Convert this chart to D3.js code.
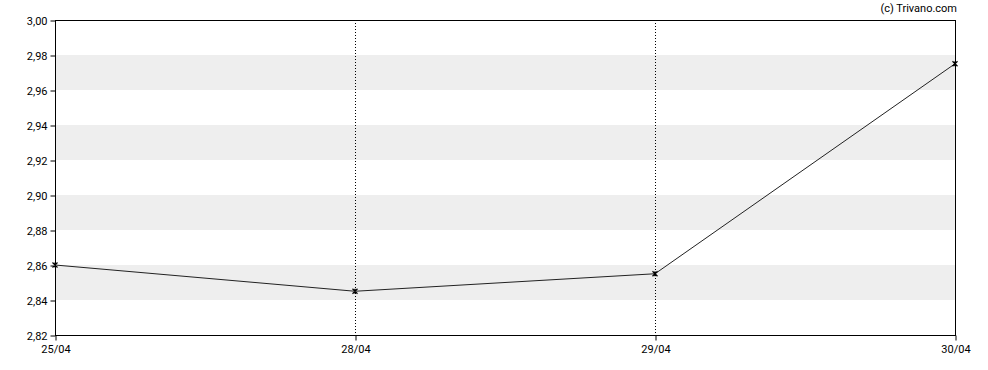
<!DOCTYPE html>
<html>
<head>
<meta charset="utf-8">
<script src="https://cdn.jsdelivr.net/npm/d3@7"></script>
<style>
  body { margin: 0; background: #fff; }
  text { font-family: Roboto, "Liberation Sans", sans-serif; font-size: 11px; fill: #000; }
</style>
</head>
<body>
<div id="chart"></div>
<script>
  // data
  var dates = ["25/04", "28/04", "29/04", "30/04"];
  var prices = [2.86, 2.845, 2.855, 2.975];
  var yTicks = [2.82, 2.84, 2.86, 2.88, 2.90, 2.92, 2.94, 2.96, 2.98, 3.00];
  var bands = [[2.84, 2.86], [2.88, 2.90], [2.92, 2.94], [2.96, 2.98]];

  var W = 988, H = 370;
  const margin = { top: 20, right: 33, bottom: 35, left: 55 };
  var width = W - margin.left - margin.right,
      height = H - margin.top - margin.bottom;

  var svg = d3.select("#chart").append("svg")
    .attr("width", W).attr("height", H);

  var g = svg.append("g").attr("transform", `translate(${margin.left}, ${margin.top})`);

  var x = d3.scalePoint().domain(dates).range([0, width]);
  var y = d3.scaleLinear().domain([2.82, 3.00]).range([height, 0]);

  // grey bands
  g.selectAll(".band").data(bands).enter().append("rect")
    .attr("x", 0).attr("width", width)
    .attr("y", d => y(d[1]))
    .attr("height", d => y(d[0]) - y(d[1]))
    .attr("fill", "#eeeeee");

  // dotted vertical lines on inner dates
  g.selectAll(".vline").data(dates.slice(1, -1)).enter().append("line")
    .attr("x1", d => Math.round(x(d)) + 0.5).attr("x2", d => Math.round(x(d)) + 0.5)
    .attr("y1", 0).attr("y2", height)
    .attr("stroke", "#000").attr("stroke-width", 1)
    .attr("stroke-dasharray", "1,2");

  // frame
  g.append("rect").attr("x", 0.5).attr("y", 0.5)
    .attr("width", width).attr("height", height)
    .attr("fill", "none").attr("stroke", "#000");

  // axes
  var yAxis = g.append("g").attr("transform", "translate(0.5,0.5)")
    .call(d3.axisLeft(y).tickValues(yTicks).tickSize(5).tickPadding(3)
      .tickFormat(d => d3.format(".2f")(d).replace(".", ",")));
  var xAxis = g.append("g").attr("transform", `translate(0.5,${height + 0.5})`)
    .call(d3.axisBottom(x).tickSize(5).tickPadding(5));
  [yAxis, xAxis].forEach(function (a) {
    a.select(".domain").remove();
    a.selectAll(".tick line").attr("stroke", "#000");
    a.selectAll("text").attr("fill", "#000")
      .style("font-family", "Roboto, sans-serif").style("font-size", "11px");
  });

  // price line
  var line = d3.line().x(d => x(d.date)).y(d => y(d.v));
  var pts = dates.map((d, i) => ({ date: d, v: prices[i] }));
  g.append("path").datum(pts)
    .attr("d", line).attr("fill", "none")
    .attr("stroke", "#222").attr("stroke-width", 1);

  // x markers
  var s = 2.5;
  g.selectAll(".mark").data(pts).enter().append("path")
    .attr("transform", d => `translate(${x(d.date)},${y(d.v)})`)
    .attr("d", `M${-s},${-s}L${s},${s}M${-s},${s}L${s},${-s}M0,${-s}L0,${s}`)
    .attr("stroke", "#000").attr("stroke-width", 1.2).attr("fill", "none");

  // credit
  svg.append("text")
    .attr("x", 957).attr("y", 12)
    .attr("text-anchor", "end")
    .text("(c) Trivano.com");
</script>
</body>
</html>
